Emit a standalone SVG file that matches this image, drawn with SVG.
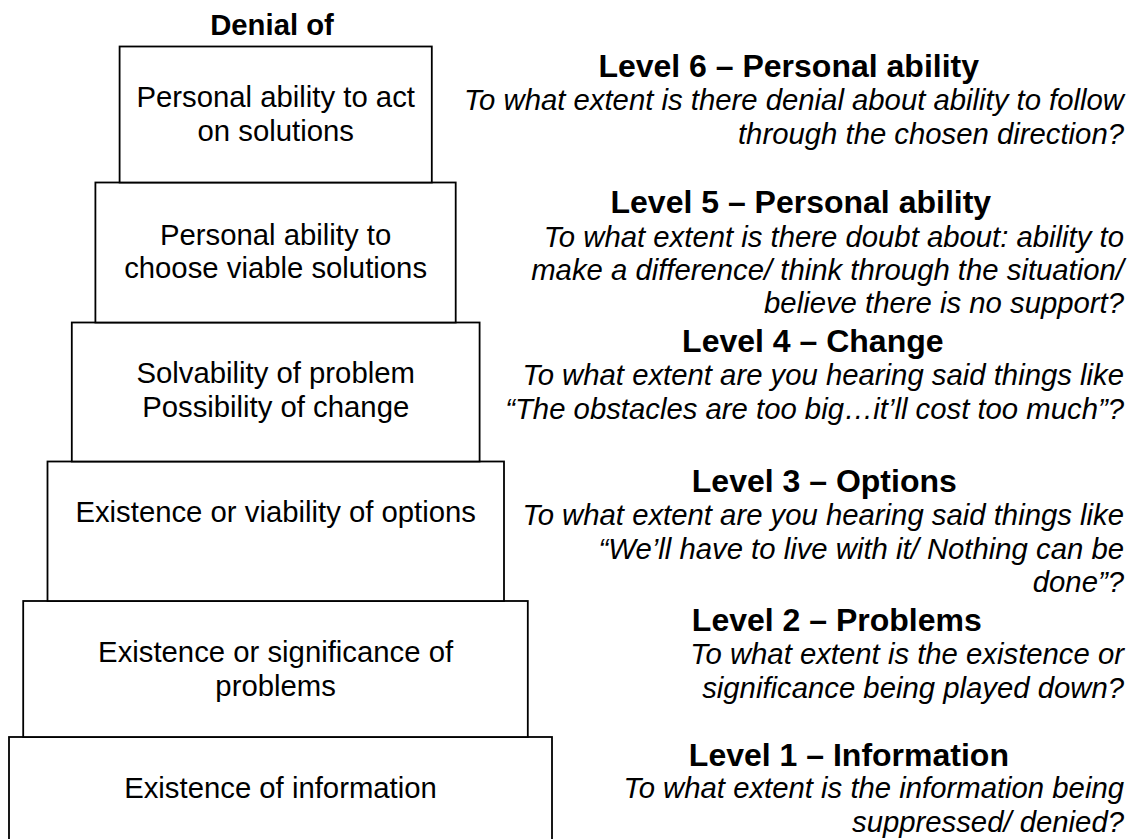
<svg xmlns="http://www.w3.org/2000/svg" width="1136" height="839" viewBox="0 0 1136 839">
<style>
  .box { fill: #ffffff; stroke: #000000; stroke-width: 1.8; }
  .bt { font-family: "Liberation Sans", Arial, sans-serif; font-size: 29.3px; fill: #000; text-anchor: middle; }
  .hd { font-family: "Liberation Sans", Arial, sans-serif; font-size: 32px; font-weight: bold; fill: #000; text-anchor: middle; }
  .it { font-family: "Liberation Sans", Arial, sans-serif; font-size: 29.3px; font-style: italic; fill: #000; text-anchor: end; }
  .ti { font-family: "Liberation Sans", Arial, sans-serif; font-size: 29.3px; font-weight: bold; fill: #000; text-anchor: middle; }
</style>
<rect width="1136" height="839" fill="#ffffff"/>
<text class="ti" x="272" y="35">Denial of</text>

<g id="connectors"></g>

<g id="box1">
  <rect class="box" x="9" y="737" width="543" height="112"/>
  <text class="bt" x="280.5" y="798.3">Existence of information</text>
</g>
<g id="box2">
  <rect class="box" x="23.2" y="601" width="504.6" height="136"/>
  <text class="bt" x="275.6" y="662.3">Existence or significance of</text>
  <text class="bt" x="275.6" y="696">problems</text>
</g>
<g id="box3">
  <rect class="box" x="47.5" y="461.5" width="456.5" height="139.5"/>
  <text class="bt" x="275.7" y="521.7">Existence or viability of options</text>
</g>
<g id="box4">
  <rect class="box" x="71.8" y="322.5" width="407.8" height="139"/>
  <text class="bt" x="275.7" y="383.3">Solvability of problem</text>
  <text class="bt" x="275.7" y="416.7">Possibility of change</text>
</g>
<g id="box5">
  <rect class="box" x="95.4" y="182.5" width="360.3" height="140"/>
  <text class="bt" x="275.6" y="244.7">Personal ability to</text>
  <text class="bt" x="275.6" y="278">choose viable solutions</text>
</g>
<g id="box6">
  <rect class="box" x="119.6" y="46.5" width="312.2" height="136"/>
  <text class="bt" x="275.7" y="107.3">Personal ability to act</text>
  <text class="bt" x="275.7" y="141.2">on solutions</text>
</g>

<g id="level6">
  <text class="hd" x="788.7" y="76.5">Level 6 – Personal ability</text>
  <text class="it" x="1124" y="110">To what extent is there denial about ability to follow</text>
  <text class="it" x="1124" y="144">through the chosen direction?</text>
</g>
<g id="level5">
  <text class="hd" x="800.8" y="213.3">Level 5 – Personal ability</text>
  <text class="it" x="1124" y="246.7">To what extent is there doubt about: ability to</text>
  <text class="it" x="1124" y="280">make a difference/ think through the situation/</text>
  <text class="it" x="1124" y="313.3">believe there is no support?</text>
</g>
<g id="level4">
  <text class="hd" x="812.8" y="351.7">Level 4 – Change</text>
  <text class="it" x="1124" y="385">To what extent are you hearing said things like</text>
  <text class="it" x="1124" y="418.5">“The obstacles are too big…it’ll cost too much”?</text>
</g>
<g id="level3">
  <text class="hd" x="824.3" y="491.7">Level 3 – Options</text>
  <text class="it" x="1124" y="525">To what extent are you hearing said things like</text>
  <text class="it" x="1124" y="558.5">“We’ll have to live with it/ Nothing can be</text>
  <text class="it" x="1124" y="592">done”?</text>
</g>
<g id="level2">
  <text class="hd" x="836.8" y="630.7">Level 2 – Problems</text>
  <text class="it" x="1124" y="664.3">To what extent is the existence or</text>
  <text class="it" x="1124" y="698">significance being played down?</text>
</g>
<g id="level1">
  <text class="hd" x="848.9" y="765.7">Level 1 – Information</text>
  <text class="it" x="1124" y="798.3">To what extent is the information being</text>
  <text class="it" x="1124" y="831.7">suppressed/ denied?</text>
</g>
</svg>
